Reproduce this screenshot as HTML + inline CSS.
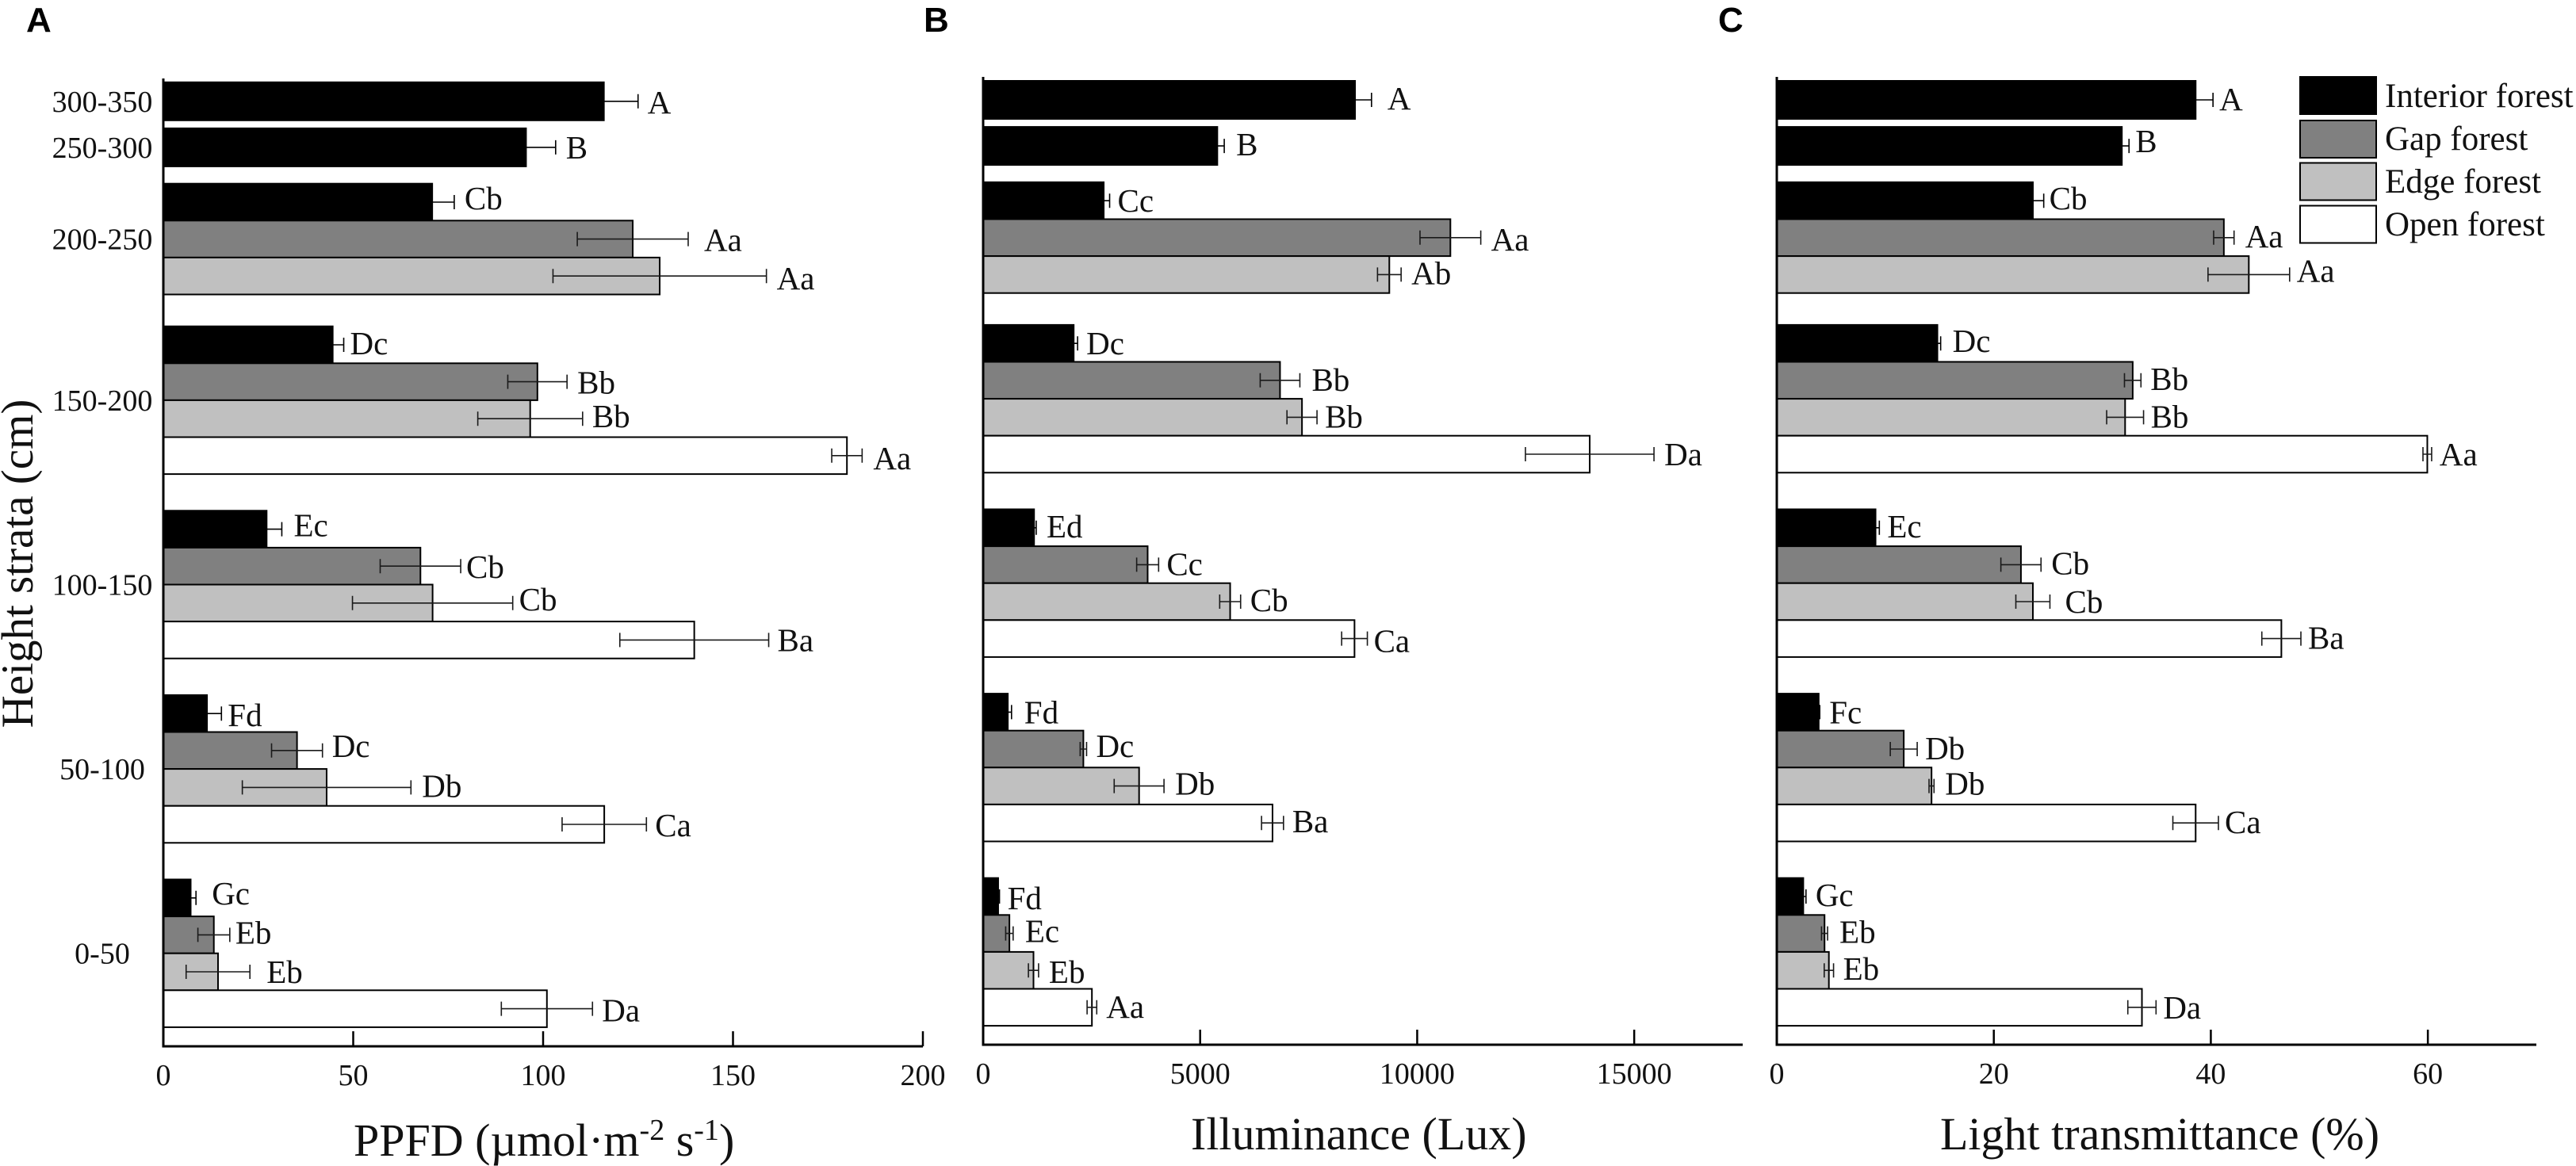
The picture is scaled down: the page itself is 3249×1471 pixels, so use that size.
<!DOCTYPE html>
<html lang="en">
<head>
<meta charset="utf-8">
<title>Light environment by height strata</title>
<style>
html,body{margin:0;padding:0;background:#fff;}
svg{display:block;}
text{font-family:"Liberation Serif",serif;fill:#111;}
.panel-letter{font-family:"Liberation Sans",sans-serif;font-weight:700;font-size:44px;fill:#000;}
.axis-title{font-size:58px;}
.legend-text{font-size:43px;}
</style>
</head>
<body>
<svg id="chart" xmlns="http://www.w3.org/2000/svg" width="3249" height="1471" viewBox="0 0 3249 1471">
  <rect x="0" y="0" width="3249" height="1471" fill="#fff"/>
  <text class="panel-letter" x="33" y="40">A</text>
  <text class="panel-letter" x="1165" y="40">B</text>
  <text class="panel-letter" x="2167" y="40">C</text>
  <text class="axis-title" transform="translate(41,711) rotate(-90)" text-anchor="middle" style="font-size:57px">Height strata (cm)</text>
  <text class="axis-title" x="446" y="1458">PPFD (µmol·m<tspan font-size="38" dy="-20">-2</tspan><tspan dy="20"> s</tspan><tspan font-size="38" dy="-20">-1</tspan><tspan dy="20">)</tspan></text>
  <text class="axis-title" x="1502" y="1450">Illuminance (Lux)</text>
  <text class="axis-title" x="2447" y="1450">Light transmittance (%)</text>
  <g id="panels"></g>
  <g>
    <g>
      <rect x="2901" y="97" width="96" height="47" fill="#000" stroke="#000" stroke-width="2"/>
      <text class="legend-text" x="3008" y="135">Interior forest</text>
    </g>
    <g>
      <rect x="2901" y="152" width="96" height="47" fill="#808080" stroke="#000" stroke-width="2"/>
      <text class="legend-text" x="3008" y="189">Gap forest</text>
    </g>
    <g>
      <rect x="2901" y="205.500" width="96" height="47" fill="#c0c0c0" stroke="#000" stroke-width="2"/>
      <text class="legend-text" x="3008" y="243">Edge forest</text>
    </g>
    <g>
      <rect x="2901" y="259.500" width="96" height="47" fill="#fff" stroke="#000" stroke-width="2"/>
      <text class="legend-text" x="3008" y="297">Open forest</text>
    </g>
  </g>
</svg>
<script>
// Shared categories, listed from the top of the chart downward.
const categories = ['300-350', '250-300', '200-250', '150-200', '100-150', '50-100', '0-50'];

// Panel A: PPFD
const ppfdInterior = [116, 95.5, 70.8, 44.6, 27.2, 11.5, 7.2];
const ppfdGap = [null, null, 123.6, 98.5, 67.7, 35.2, 13.3];
const ppfdEdge = [null, null, 130.7, 96.6, 70.9, 43, 14.4];
const ppfdOpen = [null, null, null, 180, 139.8, 116.1, 101];
const ppfdInteriorErr = [9, 7.8, 5.8, 2.9, 4, 3.8, 1.4];
const ppfdGapErr = [null, null, 14.6, 7.8, 10.6, 6.7, 4.2];
const ppfdEdgeErr = [null, null, 28.1, 13.8, 21.1, 22.2, 8.4];
const ppfdOpenErr = [null, null, null, 4, 19.6, 11.1, 12];
const ppfdInteriorLabels = ['A', 'B', 'Cb', 'Dc', 'Ec', 'Fd', 'Gc'];
const ppfdGapLabels = [null, null, 'Aa', 'Bb', 'Cb', 'Dc', 'Eb'];
const ppfdEdgeLabels = [null, null, 'Aa', 'Bb', 'Cb', 'Db', 'Eb'];
const ppfdOpenLabels = [null, null, null, 'Aa', 'Ba', 'Ca', 'Da'];
const ppfdTicks = [0, 50, 100, 150, 200];

// Panel B: Illuminance
const luxInterior = [8568, 5395, 2778, 2086, 1173, 568, 346];
const luxGap = [null, null, 10765, 6840, 3790, 2309, 605];
const luxEdge = [null, null, 9358, 7346, 5691, 3593, 1160];
const luxOpen = [null, null, null, 13975, 8556, 6667, 2506];
const luxInteriorErr = [380, 160, 136, 90, 50, 86, 30];
const luxGapErr = [null, null, 700, 457, 253, 74, 86];
const luxEdgeErr = [null, null, 272, 346, 241, 574, 117];
const luxOpenErr = [null, null, null, 1481, 296, 253, 111];
const luxInteriorLabels = ['A', 'B', 'Cc', 'Dc', 'Ed', 'Fd', 'Fd'];
const luxGapLabels = [null, null, 'Aa', 'Bb', 'Cc', 'Dc', 'Ec'];
const luxEdgeLabels = [null, null, 'Ab', 'Bb', 'Cb', 'Db', 'Eb'];
const luxOpenLabels = [null, null, null, 'Da', 'Ca', 'Ba', 'Aa'];
const luxTicks = [0, 5000, 10000, 15000];

// Panel C: Light transmittance
const transInterior = [38.6, 31.8, 23.6, 14.8, 9.1, 3.86, 2.44];
const transGap = [null, null, 41.2, 32.8, 22.5, 11.7, 4.4];
const transEdge = [null, null, 43.5, 32.1, 23.6, 14.26, 4.8];
const transOpen = [null, null, null, 59.95, 46.5, 38.6, 33.65];
const transInteriorErr = [1.6, 0.66, 1, 0.3, 0.35, 0.1, 0.25];
const transGapErr = [null, null, 0.94, 0.76, 1.85, 1.24, 0.28];
const transEdgeErr = [null, null, 3.76, 1.7, 1.57, 0.23, 0.43];
const transOpenErr = [null, null, null, 0.4, 1.8, 2.1, 1.3];
const transInteriorLabels = ['A', 'B', 'Cb', 'Dc', 'Ec', 'Fc', 'Gc'];
const transGapLabels = [null, null, 'Aa', 'Bb', 'Cb', 'Db', 'Eb'];
const transEdgeLabels = [null, null, 'Aa', 'Bb', 'Cb', 'Db', 'Eb'];
const transOpenLabels = [null, null, null, 'Aa', 'Ba', 'Ca', 'Da'];
const transTicks = [0, 20, 40, 60];

const SVG_NS = 'http://www.w3.org/2000/svg';
const seriesFills = ['#000000', '#808080', '#c0c0c0', '#ffffff'];
const whiskerColors = ['#000000', '#1a1a1a', '#1a1a1a', '#1a1a1a'];
const BAR_H = 46.6;
const SINGLE_BAR_H = 48;
const PLOT_W = 958;

// Placement only: small [dx, dy] tweaks of each letter annotation, relative to its whisker end.
const nudgeA = [
  [[0,1],[1,0],[1,-5],[-4,-2],[3,-5],[-4,2],[8,-6]],
  [null,null,[8,1],[1,1],[-5,1],[0,-6],[-5,-3]],
  [null,null,[1,3],[0,-3],[-4,-5],[2,-2],[9,0]],
  [null,null,null,[2,3],[-1,0],[-1,1],[0,2]]
];
const nudgeB = [
  [[8,-2],[3,-2],[-2,0],[-1,0],[1,-2],[4,0],[-2,2]],
  [null,null,[1,2],[3,-1],[-2,-1],[0,-4],[3,-3]],
  [null,null,[1,-2],[-2,-1],[0,-2],[2,-3],[1,2]],
  [null,null,null,[1,0],[-4,3],[-1,-2],[0,-1]]
];
const nudgeC = [
  [[-4,-1],[-4,-6],[-5,-3],[3,-3],[-2,-2],[0,0],[0,-2]],
  [null,null,[2,-2],[0,-2],[1,-2],[-2,-1],[3,-2]],
  [null,null,[-3,-5],[-3,-1],[7,0],[2,-3],[0,-2]],
  [null,null,null,[-2,0],[-3,-1],[-4,-1],[-3,0]]
];

// Vertical spacing that follows each category group, in px.
function gapAfterGroup(i) {
  if (i === 0) return 10.1;
  if (i === 1) return 21.8;
  if (i === 2) return 40.2;
  return 46.2;
}

function drawPanel(panel) {
  const root = document.getElementById('panels');
  const xScale = function (v) { return panel.x0 + v * PLOT_W / panel.max; };
  const group = document.createElementNS(SVG_NS, 'g');
  
  
  root.appendChild(group);

  let y = panel.top;
  categories.forEach(function (cat, c) {
    const present = panel.series.filter(function (s) { return s.values[c] !== null; });
    const h = present.length === 1 ? SINGLE_BAR_H : BAR_H;
    const groupTop = y;

    present.forEach(function (s) {
      const i = panel.series.indexOf(s);
      const bar = document.createElementNS(SVG_NS, 'rect');
      
      
      bar.setAttribute('x', panel.x0);
      bar.setAttribute('y', y);
      bar.setAttribute('width', xScale(s.values[c]) - panel.x0);
      bar.setAttribute('height', h);
      bar.setAttribute('fill', seriesFills[i]);
      bar.setAttribute('stroke', '#000');
      bar.setAttribute('stroke-width', '2');
      group.appendChild(bar);
      y += h;
    });

    let yy = groupTop;
    present.forEach(function (s) {
      const i = panel.series.indexOf(s);
      const cy = yy + h / 2;
      const lo = xScale(s.values[c] - s.errs[c]);
      const hi = xScale(s.values[c] + s.errs[c]);
      const err = document.createElementNS(SVG_NS, 'path');
      
      
      err.setAttribute('d', 'M' + lo + ' ' + (cy - 9) + 'V' + (cy + 9) + 'M' + lo + ' ' + cy + 'H' + hi + 'M' + hi + ' ' + (cy - 9) + 'V' + (cy + 9));
      err.setAttribute('fill', 'none');
      err.setAttribute('stroke', whiskerColors[i]);
      err.setAttribute('stroke-width', '1.6');
      group.appendChild(err);

      const shift = panel.nudge[i][c];
      const label = document.createElementNS(SVG_NS, 'text');
      
      
      label.setAttribute('x', hi + 12 + shift[0]);
      label.setAttribute('y', cy + 14 + shift[1]);
      label.setAttribute('font-size', '41');
      label.textContent = s.labels[c];
      group.appendChild(label);
      yy += h;
    });

    if (panel.showCategories) {
      const catLabel = document.createElementNS(SVG_NS, 'text');
      
      
      catLabel.setAttribute('x', 129);
      catLabel.setAttribute('y', (groupTop + y) / 2 + 13);
      catLabel.setAttribute('font-size', '38');
      catLabel.setAttribute('text-anchor', 'middle');
      catLabel.textContent = cat;
      group.appendChild(catLabel);
    }
    y += gapAfterGroup(c);
  });

  const axis = document.createElementNS(SVG_NS, 'path');
  
  
  axis.setAttribute('d', 'M' + panel.x0 + ' ' + (panel.base - 1221) + 'V' + panel.base + 'H' + (panel.x0 + PLOT_W));
  axis.setAttribute('fill', 'none');
  axis.setAttribute('stroke', '#000');
  axis.setAttribute('stroke-width', '3');
  group.appendChild(axis);

  panel.ticks.forEach(function (t) {
    if (t !== 0) {
      const tick = document.createElementNS(SVG_NS, 'line');
      
      
      tick.setAttribute('x1', xScale(t));
      tick.setAttribute('x2', xScale(t));
      tick.setAttribute('y1', panel.base);
      tick.setAttribute('y2', panel.base - 19);
      tick.setAttribute('stroke', '#000');
      tick.setAttribute('stroke-width', '2.5');
      group.appendChild(tick);
    }
    const tickLabel = document.createElementNS(SVG_NS, 'text');
    
    
    tickLabel.setAttribute('x', xScale(t));
    tickLabel.setAttribute('y', panel.base + 49);
    tickLabel.setAttribute('font-size', '38');
    tickLabel.setAttribute('text-anchor', 'middle');
    tickLabel.textContent = t;
    group.appendChild(tickLabel);
  });
}

drawPanel({
  x0: 206, top: 103.8, base: 1320, max: 200, ticks: ppfdTicks, showCategories: true, nudge: nudgeA,
  series: [
    { values: ppfdInterior, errs: ppfdInteriorErr, labels: ppfdInteriorLabels },
    { values: ppfdGap, errs: ppfdGapErr, labels: ppfdGapLabels },
    { values: ppfdEdge, errs: ppfdEdgeErr, labels: ppfdEdgeLabels },
    { values: ppfdOpen, errs: ppfdOpenErr, labels: ppfdOpenLabels }
  ]
});
drawPanel({
  x0: 1240, top: 102, base: 1318, max: 17500, ticks: luxTicks, showCategories: false, nudge: nudgeB,
  series: [
    { values: luxInterior, errs: luxInteriorErr, labels: luxInteriorLabels },
    { values: luxGap, errs: luxGapErr, labels: luxGapLabels },
    { values: luxEdge, errs: luxEdgeErr, labels: luxEdgeLabels },
    { values: luxOpen, errs: luxOpenErr, labels: luxOpenLabels }
  ]
});
drawPanel({
  x0: 2241, top: 102, base: 1318, max: 70, ticks: transTicks, showCategories: false, nudge: nudgeC,
  series: [
    { values: transInterior, errs: transInteriorErr, labels: transInteriorLabels },
    { values: transGap, errs: transGapErr, labels: transGapLabels },
    { values: transEdge, errs: transEdgeErr, labels: transEdgeLabels },
    { values: transOpen, errs: transOpenErr, labels: transOpenLabels }
  ]
});
</script>
</body>
</html>
